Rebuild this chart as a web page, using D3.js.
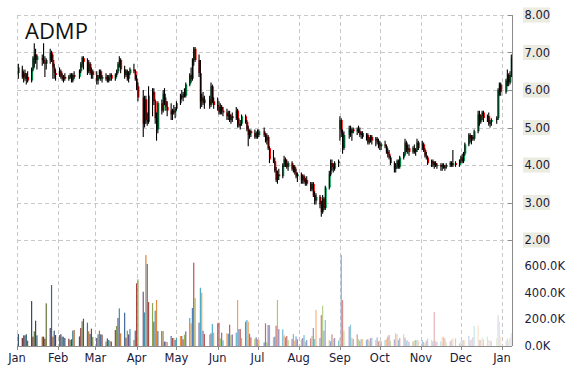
<!DOCTYPE html>
<html>
<head>
<meta charset="utf-8">
<script src="https://cdn.jsdelivr.net/npm/d3@7"></script>
<style>
  body { margin: 0; background: #fff; }
  svg text { font-family: 'DejaVu Sans', sans-serif; }
</style>
</head>
<body>
<div id="chart"></div>
<script>
// ADMP daily candles + volume, Jan 2015 -> early Jan 2016
const symbol = 'ADMP';
const holidays = ['2015-01-01','2015-01-19','2015-02-16','2015-04-03','2015-05-25','2015-07-03',
  '2015-09-07','2015-11-26','2015-12-25','2016-01-01'];

const opens = [
  6.45,6.55,6.35,6.45,6.30,6.35,6.25,6.55,6.80,6.95,6.80,6.85,6.80,6.75,6.70,6.80,7.00,6.80,6.60,6.45,
  6.45,6.50,6.35,6.30,6.35,6.30,6.35,6.40,6.25,6.40,6.35,6.50,6.70,6.85,6.75,6.50,6.70,6.45,6.50,
  6.40,6.25,6.35,6.50,6.30,6.35,6.30,6.25,6.35,6.40,6.30,6.40,6.50,6.70,6.80,6.55,6.40,6.50,6.30,6.45,6.55,6.50,
  6.30,6.10,5.80,5.10,5.75,5.20,5.15,5.85,5.95,5.70,5.25,4.95,5.65,5.45,5.90,5.70,5.55,5.45,5.35,5.45,5.40,
  5.50,5.65,5.85,5.80,5.90,5.85,6.15,6.40,6.30,6.80,7.10,6.80,6.45,5.70,5.80,5.65,5.75,5.60,6.10,5.70,
  5.60,5.55,5.40,5.55,5.45,5.40,5.30,5.35,5.20,5.30,5.25,5.45,5.10,5.05,5.10,5.30,5.15,4.95,4.80,4.90,4.85,4.75,
  4.85,4.80,4.90,4.80,4.65,4.75,4.45,4.15,4.10,3.85,3.60,3.75,3.70,4.00,4.15,4.05,3.95,4.05,3.90,3.95,3.80,3.70,
  3.75,3.60,3.70,3.55,3.60,3.50,3.35,3.50,3.20,3.05,3.15,2.95,2.75,3.10,2.85,3.40,3.75,4.05,3.95,3.90,4.05,
  4.95,5.20,4.85,4.45,4.80,4.95,4.85,4.95,4.90,4.95,4.90,4.80,4.85,4.75,4.80,4.60,4.70,4.75,4.65,4.70,4.60,
  4.55,4.50,4.55,4.50,4.35,4.30,4.20,4.05,3.90,3.95,4.10,3.95,4.20,4.30,4.60,4.40,4.45,4.35,4.45,4.35,4.40,4.60,
  4.45,4.55,4.40,4.25,4.20,4.05,4.10,4.00,4.05,3.98,4.00,3.95,4.00,3.92,3.95,4.00,4.05,4.00,4.05,4.00,
  4.10,4.20,4.10,4.30,4.55,4.80,4.70,4.75,4.70,4.90,5.35,5.15,5.30,5.40,5.25,5.30,5.10,5.15,5.20,5.25,6.00,6.15,
  5.95,6.25,6.40,6.20,6.40
];
const highs = [
  6.70,6.65,6.50,6.55,6.45,6.50,6.60,6.90,7.25,7.10,6.95,6.95,7.25,6.90,6.85,7.10,7.05,6.95,6.70,6.55,
  6.60,6.55,6.45,6.40,6.45,6.40,6.45,6.45,6.45,6.50,6.55,6.75,6.90,6.90,6.85,6.80,6.75,6.60,6.55,
  6.50,6.40,6.55,6.55,6.40,6.45,6.40,6.40,6.45,6.45,6.45,6.55,6.75,6.90,6.85,6.65,6.55,6.55,6.50,6.60,6.70,6.55,
  6.40,6.20,6.00,5.85,5.85,5.40,6.10,6.05,6.05,5.75,5.40,5.70,5.75,6.00,6.05,5.80,5.70,5.65,5.50,5.60,5.55,
  5.70,5.90,6.00,5.95,6.05,6.20,6.45,6.60,6.85,7.15,7.15,6.95,6.80,5.90,5.95,5.85,5.85,6.20,6.15,5.80,
  5.80,5.70,5.65,5.60,5.55,5.50,5.45,5.45,5.35,5.40,5.55,5.50,5.25,5.20,5.35,5.35,5.20,5.05,4.95,4.95,4.95,4.90,
  4.95,4.95,5.00,4.85,4.85,4.80,4.50,4.40,4.20,3.95,3.85,3.90,4.05,4.25,4.20,4.15,4.10,4.10,4.00,4.00,3.90,3.80,
  3.80,3.75,3.75,3.65,3.70,3.55,3.55,3.55,3.30,3.25,3.20,3.05,3.20,3.15,3.45,3.85,4.15,4.15,4.05,4.10,4.15,
  5.30,5.25,4.95,4.90,5.05,5.05,5.00,5.00,5.00,5.05,5.00,4.90,4.90,4.85,4.85,4.75,4.80,4.80,4.75,4.75,4.70,
  4.65,4.60,4.65,4.55,4.45,4.40,4.25,4.10,4.05,4.15,4.15,4.25,4.35,4.70,4.65,4.55,4.55,4.50,4.55,4.45,4.70,4.65,
  4.65,4.60,4.45,4.35,4.25,4.15,4.15,4.10,4.10,4.05,4.05,4.05,4.05,4.00,4.05,4.10,4.10,4.40,4.10,4.15,
  4.25,4.30,4.35,4.60,4.85,4.85,4.80,4.80,4.95,5.45,5.45,5.35,5.45,5.45,5.35,5.40,5.20,5.25,5.30,6.05,6.20,6.20,
  6.30,6.55,6.45,6.50,6.95
];
const lows = [
  6.30,6.30,6.20,6.25,6.15,6.20,6.20,6.50,6.60,6.70,6.55,6.65,6.70,6.35,6.55,6.70,6.75,6.30,6.30,6.25,
  6.35,6.30,6.25,6.20,6.25,6.25,6.30,6.20,6.20,6.30,6.30,6.45,6.60,6.55,6.40,6.45,6.40,6.30,6.30,
  6.15,6.15,6.30,6.25,6.20,6.25,6.20,6.20,6.25,6.25,6.25,6.35,6.45,6.60,6.45,6.30,6.35,6.25,6.20,6.40,6.45,6.25,
  6.00,5.70,4.75,5.00,5.10,5.05,5.10,5.30,5.60,5.10,4.65,4.85,5.35,5.40,5.60,5.45,5.30,5.20,5.20,5.35,5.25,
  5.45,5.60,5.75,5.70,5.80,5.80,6.10,6.20,6.25,6.65,6.75,6.35,5.50,5.55,5.60,5.50,5.50,5.55,5.65,5.50,
  5.45,5.35,5.35,5.35,5.30,5.20,5.20,5.15,5.10,5.15,5.20,5.00,5.00,4.95,5.05,5.10,4.90,4.50,4.70,4.75,4.70,4.70,
  4.70,4.75,4.75,4.60,4.55,4.40,4.05,4.05,3.80,3.55,3.50,3.60,3.65,3.95,3.95,3.90,3.85,3.85,3.80,3.75,3.65,3.55,
  3.50,3.50,3.50,3.45,3.45,3.30,3.30,3.15,2.95,2.95,2.85,2.62,2.70,2.80,2.80,3.35,3.70,3.85,3.80,3.85,3.95,
  4.65,4.75,4.30,4.40,4.70,4.75,4.65,4.85,4.80,4.85,4.75,4.70,4.70,4.65,4.55,4.55,4.60,4.55,4.50,4.55,4.45,
  4.40,4.40,4.45,4.30,4.20,4.15,4.00,3.80,3.80,3.90,3.90,3.90,4.15,4.25,4.35,4.30,4.25,4.30,4.30,4.25,4.35,4.40,
  4.40,4.35,4.20,4.15,4.00,3.95,3.95,3.90,3.95,3.90,3.85,3.85,3.90,3.85,3.90,3.95,3.95,3.95,3.95,3.95,
  4.05,4.05,4.05,4.25,4.50,4.60,4.55,4.65,4.65,4.85,5.05,5.10,5.20,5.15,5.15,5.05,5.00,5.05,5.10,5.20,5.85,5.85,
  5.90,6.10,6.10,6.15,6.35
];
const closes = [
  6.60,6.35,6.45,6.30,6.35,6.25,6.55,6.85,6.95,6.80,6.90,6.80,6.75,6.70,6.80,7.00,6.80,6.60,6.45,6.40,
  6.50,6.35,6.30,6.35,6.30,6.35,6.40,6.25,6.40,6.35,6.50,6.70,6.85,6.75,6.50,6.70,6.45,6.50,6.40,
  6.25,6.35,6.50,6.30,6.35,6.30,6.25,6.35,6.40,6.30,6.40,6.50,6.70,6.80,6.55,6.40,6.50,6.30,6.45,6.55,6.50,6.30,
  6.10,5.80,5.10,5.75,5.20,5.15,5.85,5.95,5.70,5.25,4.95,5.65,5.45,5.90,5.70,5.55,5.45,5.35,5.45,5.40,5.50,
  5.65,5.85,5.80,5.90,5.85,6.15,6.40,6.30,6.80,7.10,6.80,6.45,5.70,5.80,5.65,5.75,5.60,6.10,5.70,5.60,
  5.55,5.40,5.55,5.45,5.40,5.30,5.35,5.20,5.30,5.25,5.45,5.10,5.05,5.10,5.30,5.15,4.95,4.80,4.90,4.85,4.75,4.85,
  4.80,4.90,4.80,4.65,4.75,4.45,4.15,4.10,3.85,3.60,3.75,3.70,4.00,4.15,4.05,3.95,4.05,3.90,3.95,3.80,3.70,3.75,
  3.60,3.70,3.55,3.60,3.50,3.35,3.50,3.20,3.05,3.15,2.95,2.75,3.10,2.85,3.40,3.75,4.05,3.95,3.90,4.05,4.10,
  5.20,4.85,4.45,4.80,4.95,4.85,4.95,4.90,4.95,4.90,4.80,4.85,4.75,4.80,4.60,4.70,4.75,4.65,4.70,4.60,4.55,
  4.50,4.55,4.50,4.35,4.30,4.20,4.05,3.90,3.95,4.10,3.95,4.20,4.30,4.60,4.40,4.45,4.35,4.45,4.35,4.40,4.60,4.45,
  4.55,4.40,4.25,4.20,4.05,4.10,4.00,4.05,3.98,4.00,3.95,4.00,3.92,3.95,4.00,4.05,4.00,4.05,4.00,4.10,
  4.20,4.10,4.30,4.55,4.80,4.70,4.75,4.70,4.90,5.35,5.15,5.30,5.40,5.25,5.30,5.10,5.15,5.20,5.25,6.00,6.15,5.95,
  6.25,6.40,6.20,6.40,6.85
];
// volume in thousands of shares
const volumes = [
  90,60,80,80,88,40,337,70,110,190,80,70,70,55,320,135,457,70,115,82,
  82,88,70,70,60,55,45,50,115,120,72,135,185,205,175,110,90,130,68,
  60,88,115,88,85,33,57,45,38,33,120,150,210,282,95,250,62,115,87,127,45,115,
  470,500,407,252,682,615,330,322,182,265,345,112,112,112,33,33,30,75,60,60,45,
  60,75,75,50,85,110,210,170,285,625,360,175,437,400,115,90,85,95,165,100,
  170,175,57,100,43,95,92,160,82,87,100,345,127,127,60,182,195,182,92,65,55,65,
  50,45,27,170,27,157,157,65,70,152,345,127,125,80,65,75,45,52,90,40,72,50,
  50,60,82,33,45,57,75,135,52,270,60,232,302,115,195,45,35,87,55,60,40,
  60,682,345,115,145,160,62,52,87,52,40,52,52,45,52,40,60,62,45,65,35,
  40,35,45,52,70,82,40,50,95,87,45,60,87,62,40,45,30,35,40,45,45,40,
  45,30,20,40,57,45,35,255,40,30,35,70,65,57,30,37,45,57,57,20,
  35,40,45,45,77,43,50,65,150,155,45,45,65,50,70,45,40,35,57,230,180,70,
  40,57,45,60,97
];
const priceTicks = [2, 3, 4, 5, 6, 7, 8];
const volumeTicks = [0, 200000, 400000, 600000];
const monthLabels = ['Jan','Feb','Mar','Apr','May','Jun','Jul','Aug','Sep','Oct','Nov','Dec','Jan'];

(function() {
  const W = 570, H = 370;
  const L = 17, R = 512, T = 15, B = 346;
  const fmt = d3.utcFormat('%Y-%m-%d');
  const parse = d3.utcParse('%Y-%m-%d');
  const hol = new Set(holidays);

  const days = d3.utcDay.range(parse('2015-01-02'), parse('2016-01-09'))
    .filter(d => d.getUTCDay() % 6 !== 0 && !hol.has(fmt(d)));
  const n = Math.min(days.length, closes.length);
  const data = d3.range(n).map(i => ({
    date: days[i], o: opens[i], h: highs[i], l: lows[i], c: closes[i], v: volumes[i] * 1000
  }));

  const x = d3.scaleUtc().domain([parse('2015-01-01'), new Date(Date.UTC(2016, 0, 8, 12))]).range([L, R]);
  const yP = d3.scaleLinear().domain([2, 8]).range([240, T]);
  const yV = d3.scaleLinear().domain([0, 600000]).range([B, 266]);

  const svg = d3.select('#chart').append('svg').attr('width', W).attr('height', H);

  // grid
  const months = d3.utcMonth.range(parse('2015-01-01'), parse('2016-01-02'));
  svg.append('g').selectAll('line').data(months).join('line')
    .attr('x1', d => Math.round(x(d)) + 0.5).attr('x2', d => Math.round(x(d)) + 0.5)
    .attr('y1', T).attr('y2', B)
    .attr('stroke', '#c8c8c8').attr('stroke-dasharray', '4,3');
  svg.append('g').selectAll('line').data(priceTicks).join('line')
    .attr('x1', L).attr('x2', R)
    .attr('y1', d => Math.round(yP(d)) + 0.5).attr('y2', d => Math.round(yP(d)) + 0.5)
    .attr('stroke', '#c8c8c8').attr('stroke-dasharray', '4,3');

  // volume bars
  const base = ['#4f81bd','#c0504d','#9bbb59','#8064a2','#4bacc6','#f79646'];
  const volColor = i => {
    const t = i / (n - 1);
    if (t < 0.35) return d3.interpolateRgb(base[i % 6], '#000')(0.45 * (1 - t / 0.35));
    return d3.interpolateRgb(base[i % 6], '#fff')(0.78 * Math.pow((t - 0.35) / 0.65, 1.1));
  };
  svg.append('g').selectAll('rect').data(data).join('rect')
    .attr('x', d => x(d.date) - 0.6).attr('width', 1.2)
    .attr('y', d => yV(d.v)).attr('height', d => B - yV(d.v))
    .attr('fill', (d, i) => volColor(i));

  // candles
  const cg = svg.append('g');
  cg.selectAll('rect').data(data).join('rect')
    .attr('x', d => x(d.date) - 0.5).attr('width', 2)
    .attr('y', d => yP(Math.max(d.o, d.c)))
    .attr('height', d => Math.max(1, Math.abs(yP(d.o) - yP(d.c))))
    .attr('fill', d => d.c >= d.o ? '#00a651' : '#ff0000');
  cg.selectAll('line').data(data).join('line')
    .attr('x1', d => x(d.date)).attr('x2', d => x(d.date))
    .attr('y1', d => yP(d.h)).attr('y2', d => yP(d.l))
    .attr('stroke', '#000').attr('stroke-width', 1.1);

  // axes
  svg.append('line').attr('x1', R + 0.5).attr('x2', R + 0.5).attr('y1', T).attr('y2', B)
    .attr('stroke', '#8c8c8c');
  svg.append('line').attr('x1', L).attr('x2', R).attr('y1', B + 0.5).attr('y2', B + 0.5)
    .attr('stroke', '#8c8c8c');
  svg.append('g').selectAll('line').data(months).join('line')
    .attr('x1', d => Math.round(x(d)) + 0.5).attr('x2', d => Math.round(x(d)) + 0.5)
    .attr('y1', B).attr('y2', B + 4).attr('stroke', '#8c8c8c');
  svg.append('g').selectAll('line').data(priceTicks).join('line')
    .attr('x1', R - 4).attr('x2', R)
    .attr('y1', d => Math.round(yP(d)) + 0.5).attr('y2', d => Math.round(yP(d)) + 0.5)
    .attr('stroke', '#8c8c8c');

  const pl = svg.append('g').selectAll('g').data(priceTicks).join('g')
    .attr('transform', d => `translate(523,${yP(d)})`);
  pl.append('rect').attr('x', 0).attr('y', -7.5).attr('width', 27).attr('height', 15).attr('fill', '#ecebe0');
  pl.append('text').attr('x', 1.5).attr('dy', '0.36em')
    .style('font-size', '11.5px').style('fill', '#1a1a3a')
    .text(d => d3.format('.2f')(d));

  svg.append('g').selectAll('text').data(volumeTicks).join('text')
    .attr('x', 524.5).attr('y', d => yV(d)).attr('dy', '0.36em')
    .style('font-size', '11.5px').style('fill', '#1a1a3a')
    .text(d => d3.format('.1f')(d / 1000) + 'K');

  svg.append('g').selectAll('text').data(months).join('text')
    .attr('x', d => x(d)).attr('y', 362).attr('text-anchor', 'middle')
    .style('font-size', '11.5px').style('fill', '#1a1a3a')
    .text((d, i) => monthLabels[i]);

  svg.append('text').attr('x', 25).attr('y', 39)
    .style('font-family', "'Open Sans', sans-serif").style('font-size', '22px').style('fill', '#111')
    .text(symbol);
})();
</script>
</body>
</html>
